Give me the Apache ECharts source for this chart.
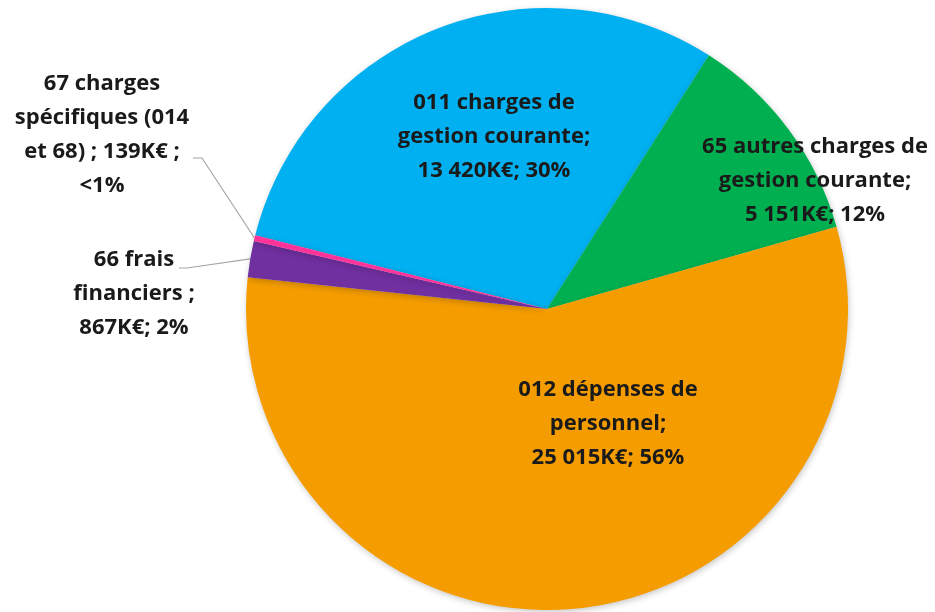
<!DOCTYPE html>
<html><head><meta charset="utf-8">
<script src="https://cdn.jsdelivr.net/npm/echarts@6/dist/echarts.min.js"></script>
<style>html,body{margin:0;padding:0;background:#fff}#c{width:935px;height:612px}</style>
</head><body><div id="c"></div>
<script>
// ---- data ----
const categories = [
  '011 charges de\ngestion courante',
  '65 autres charges de\ngestion courante',
  '012 dépenses de\npersonnel',
  '66 frais\nfinanciers',
  '67 charges\nspécifiques (014\net 68)'
];
const values = [13420, 5151, 25015, 867, 139];
const colors = ['#00B0F0', '#00B050', '#F59D00', '#7030A0', '#FF3399'];
// text separators used in each label (name -> value, value -> percent)
const sepNameValue = [';\n', ';\n', ';\n', ' ;\n', ' ; '];
const sepValuePct = ['; ', '; ', '; ', '; ', ' ;\n'];

// ---- layout / style (not data) ----
const labelAnchor = [[494, 137], [815, 181], [608, 424], [134, 294], [102, 135]];
const leader = [null, null, null, [53, -26, 45], [100, 23, 91]];

function fmtNum(v) { return String(v).replace(/\B(?=(\d{3})+(?!\d))/g, ' '); }
function fmtPct(p) { return p < 1 ? '<1%' : Math.round(p) + '%'; }

const chart = echarts.init(document.getElementById('c'), null, { renderer: 'canvas' });
const data = categories.map((n, i) => ({
  name: n,
  value: values[i],
  itemStyle: { color: colors[i] },
  labelLine: { show: leader[i] != null }
}));

chart.setOption({
  animation: false,
  backgroundColor: '#ffffff',
  series: [{
    type: 'pie',
    center: [547, 309],
    radius: 301,
    startAngle: 165.8,
    clockwise: true,
    avoidLabelOverlap: false,
    data: data,
    itemStyle: { borderWidth: 0, shadowBlur: 6, shadowOffsetX: 1, shadowOffsetY: 2, shadowColor: 'rgba(0,0,0,0.22)' },
    label: {
      show: true,
      position: 'outside',
      formatter: function (p) {
        const i = p.dataIndex;
        return p.name + sepNameValue[i] + fmtNum(p.value) + 'K€' + sepValuePct[i] + fmtPct(p.percent);
      },
      fontFamily: 'Open Sans',
      fontWeight: 'bold',
      fontSize: 22,
      lineHeight: 34,
      color: '#1a1a1a',
      align: 'center'
    },
    labelLine: { show: true, length: 20, length2: 10, smooth: false, lineStyle: { color: '#A6A6A6', width: 1.2 } },
    labelLayout: function (p) {
      const i = p.dataIndex;
      const a = labelAnchor[i];
      const out = { x: a[0], y: a[1], align: 'center', verticalAlign: 'middle', hideOverlap: false };
      const l = leader[i];
      if (l && p.labelLinePoints) {
        const s = p.labelLinePoints[0];
        out.labelLinePoints = [[s[0], s[1]], [a[0] + l[0], a[1] + l[1]], [a[0] + l[2], a[1] + l[1]]];
      }
      return out;
    }
  }]
});
</script>
</body></html>
